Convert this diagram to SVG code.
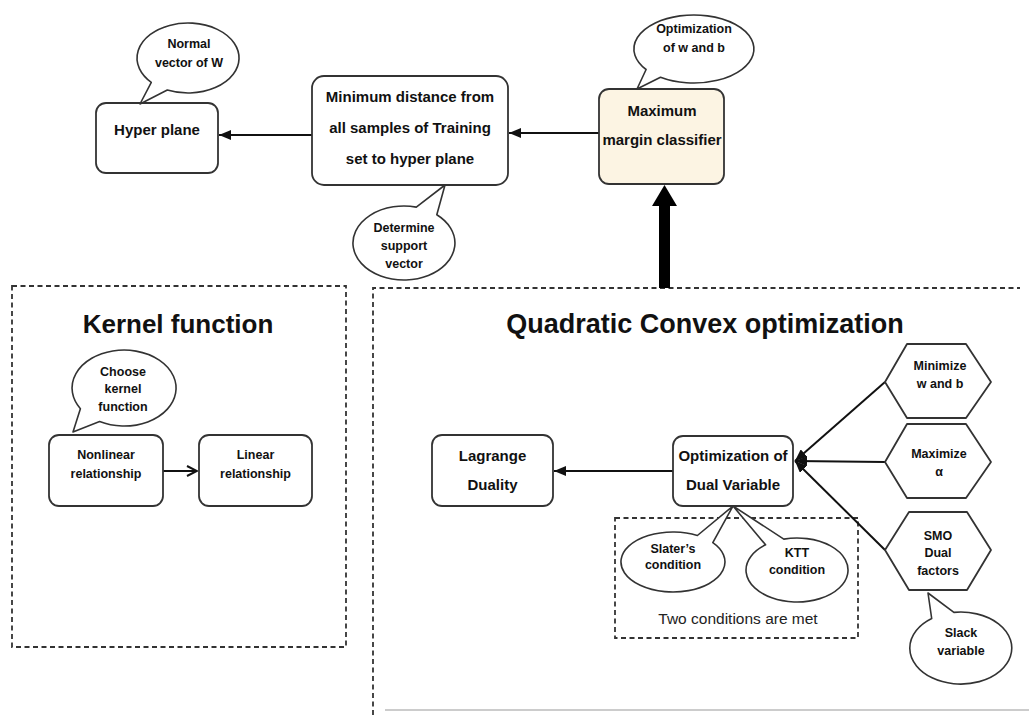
<svg xmlns="http://www.w3.org/2000/svg" width="1029" height="715" viewBox="0 0 1029 715">
  <style>
    .box { fill: #ffffff; stroke: #333333; stroke-width: 1.8; }
    .cream { fill: #fcf4e3; }
    .bubble { fill: #ffffff; stroke: #333333; stroke-width: 1.6; stroke-linejoin: round; }
    .hex { fill: #ffffff; stroke: #333333; stroke-width: 1.8; stroke-linejoin: round; }
    .frame { fill: none; stroke: #333333; stroke-width: 1.8; stroke-dasharray: 5 3.5; }
    .edge { fill: none; stroke: #111111; stroke-width: 2; }
    .t { font-family: "Liberation Sans", Arial, sans-serif; font-weight: bold; fill: #111111; text-anchor: middle; }
    .big { font-size: 15px; }
    .small { font-size: 12.5px; }
    .title { font-size: 26px; }
    .plain { font-family: "Liberation Sans", Arial, sans-serif; font-size: 15.5px; fill: #222222; text-anchor: middle; }
  </style>
  <defs>
    <marker id="arrow" markerUnits="userSpaceOnUse" markerWidth="12" markerHeight="10" refX="12" refY="5" orient="auto">
      <path d="M0,0 L12,5 L0,10 z" fill="#111111"/>
    </marker>
    <marker id="open" markerUnits="userSpaceOnUse" markerWidth="12" markerHeight="12" refX="11" refY="6" orient="auto">
      <path d="M1,1 L11,6 L1,11" fill="none" stroke="#111111" stroke-width="2"/>
    </marker>
  </defs>

  <!-- section frames -->
  <g id="kernel-frame">
    <rect class="frame" x="12" y="286" width="334" height="361"/>
    <text class="t title" x="178" y="333">Kernel function</text>
  </g>
  <g id="quadratic-frame">
    <path class="frame" d="M373,715 L373,288 L1020,288"/>
    <line x1="385" y1="710" x2="1029" y2="710" stroke="#bbbbbb" stroke-width="1.5"/>
    <text class="t title" x="705" y="333" font-size="27" style="font-size:27px">Quadratic Convex optimization</text>
  </g>
  <g id="conditions-frame">
    <rect class="frame" x="615" y="518" width="243" height="120"/>
    <text class="plain" x="738" y="624">Two conditions are met</text>
  </g>

  <!-- connectors -->
  <g id="connectors">
    <line class="edge" x1="312" y1="135" x2="219" y2="135" marker-end="url(#arrow)"/>
    <line class="edge" x1="599" y1="133" x2="509" y2="133" marker-end="url(#arrow)"/>
    <line class="edge" x1="673" y1="471" x2="554" y2="471" marker-end="url(#arrow)"/>
    <line class="edge" x1="163" y1="471" x2="197" y2="471" marker-end="url(#open)"/>
    <line class="edge" x1="885" y1="382" x2="795" y2="461" marker-end="url(#arrow)"/>
    <line class="edge" x1="885" y1="462" x2="795" y2="461" marker-end="url(#arrow)"/>
    <line class="edge" x1="885" y1="550" x2="795" y2="461" marker-end="url(#arrow)"/>
    <!-- thick arrow from the optimization frame up to the classifier -->
    <rect x="659" y="204" width="11" height="84" fill="#000000"/>
    <polygon points="652,206 677,206 664.5,185" fill="#000000"/>
  </g>

  <!-- top row -->
  <g id="hyper-plane">
    <rect class="box" x="96" y="103" width="122" height="70" rx="10"/>
    <text class="t big" x="157" y="135">Hyper plane</text>
  </g>
  <g id="normal-vector">
    <path class="bubble" d="M151.3,82.3 A51,35 0 1 1 167.3,90 L140,104 Z"/>
    <text class="t small" x="189" y="47.5">Normal</text>
    <text class="t small" x="189" y="66.5">vector of W</text>
  </g>
  <g id="minimum-distance">
    <rect class="box" x="312" y="76" width="196" height="109" rx="12"/>
    <text class="t big" x="410" y="102">Minimum distance from</text>
    <text class="t big" x="410" y="133">all samples of Training</text>
    <text class="t big" x="410" y="164">set to hyper plane</text>
  </g>
  <g id="support-vector">
    <path class="bubble" d="M436.8,214.7 A51,37 0 1 1 416.3,207.1 L445,185 Z"/>
    <text class="t small" x="404" y="231.5">Determine</text>
    <text class="t small" x="404" y="249.5">support</text>
    <text class="t small" x="404" y="267.5">vector</text>
  </g>
  <g id="max-margin">
    <rect class="box cream" x="599" y="89" width="125" height="95" rx="10"/>
    <text class="t big" x="662" y="116">Maximum</text>
    <text class="t big" x="662" y="145">margin classifier</text>
  </g>
  <g id="optimize-wb">
    <path class="bubble" d="M646.1,69.5 A60,34 0 1 1 660.5,77.2 L637,89 Z"/>
    <text class="t small" x="694" y="32.5">Optimization</text>
    <text class="t small" x="694" y="51.5">of w and b</text>
  </g>

  <!-- kernel section -->
  <g id="choose-kernel">
    <path class="bubble" d="M80.4,408.7 A52,38 0 1 1 99.6,421.6 L73,432 Z"/>
    <text class="t small" x="123" y="376">Choose</text>
    <text class="t small" x="123" y="393">kernel</text>
    <text class="t small" x="123" y="411">function</text>
  </g>
  <g id="nonlinear">
    <rect class="box" x="49" y="435" width="114" height="71" rx="10"/>
    <text class="t small" x="106" y="458.5">Nonlinear</text>
    <text class="t small" x="106" y="477.5">relationship</text>
  </g>
  <g id="linear">
    <rect class="box" x="199" y="435" width="113" height="71" rx="10"/>
    <text class="t small" x="255.5" y="458.5">Linear</text>
    <text class="t small" x="255.5" y="477.5">relationship</text>
  </g>

  <!-- quadratic section -->
  <g id="lagrange">
    <rect class="box" x="432" y="435" width="121" height="71" rx="10"/>
    <text class="t big" x="492.5" y="461">Lagrange</text>
    <text class="t big" x="492.5" y="490">Duality</text>
  </g>
  <g id="dual-variable">
    <rect class="box" x="673" y="436" width="120" height="70" rx="10"/>
    <text class="t big" x="733" y="461">Optimization of</text>
    <text class="t big" x="733" y="490">Dual Variable</text>
  </g>
  <g id="slater">
    <path class="bubble" d="M712.8,542.7 A52,30 0 1 1 697.4,535.5 L733,506 Z"/>
    <text class="t small" x="673" y="552.5">Slater’s</text>
    <text class="t small" x="673" y="568.5">condition</text>
  </g>
  <g id="ktt">
    <path class="bubble" d="M783.8,539.1 A51,32 0 1 1 765.6,544.8 L733,506 Z"/>
    <text class="t small" x="797" y="556.5">KTT</text>
    <text class="t small" x="797" y="573.5">condition</text>
  </g>
  <g id="minimize-wb">
    <polygon class="hex" points="885,382 907,344 966,344 991,382 966,418 907,418"/>
    <text class="t small" x="940" y="369.5">Minimize</text>
    <text class="t small" x="940" y="387.5">w and b</text>
  </g>
  <g id="maximize-alpha">
    <polygon class="hex" points="885,462 907,424 966,424 991,462 966,498 907,498"/>
    <text class="t small" x="939" y="457.5">Maximize</text>
    <text class="t small" x="939" y="475.5">α</text>
  </g>
  <g id="smo">
    <polygon class="hex" points="885,550 909,512 967,512 991,550 967,590 909,590"/>
    <text class="t small" x="938" y="539.5">SMO</text>
    <text class="t small" x="938" y="556.5">Dual</text>
    <text class="t small" x="938" y="574.5">factors</text>
  </g>
  <g id="slack">
    <path class="bubble" d="M953.9,612.4 A51,36 0 1 1 931.7,618.5 L928,593 Z"/>
    <text class="t small" x="961" y="636.5">Slack</text>
    <text class="t small" x="961" y="654.5">variable</text>
  </g>
</svg>
